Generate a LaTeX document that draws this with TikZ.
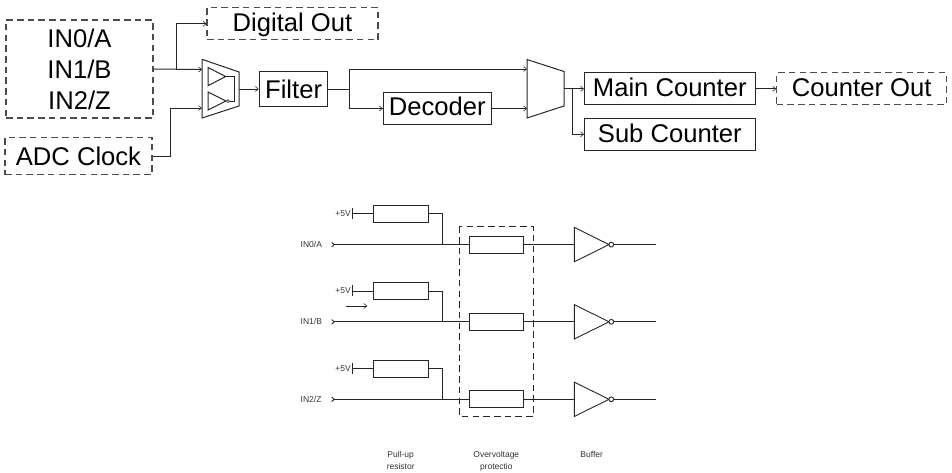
\documentclass[tikz,border=0pt]{standalone}
\usepackage{fontspec}
\setmainfont{Liberation Sans}
\usetikzlibrary{arrows.meta}
\tikzset{
  box/.style={draw=black!85,line width=1pt,inner sep=0pt,align=center,font=\fontsize{25.6}{31.3}\selectfont},
  dbox/.style={box,draw=black!70,line width=1.05pt,dash pattern=on 6.5pt off 4.2pt},
  wire/.style={draw=black!85,line width=1pt},
  arr/.style={wire,-{Straight Barb[length=3pt,width=5pt,line width=0.6pt]}},
  mux/.style={draw=black!85,line width=1pt},
  thin wire/.style={draw=black!85,line width=0.9pt},
  res/.style={draw=black!85,line width=0.9pt,minimum width=54.5pt,minimum height=17pt,inner sep=0pt},
  small/.style={inner sep=0pt,align=center,text=black!80,font=\fontsize{8.5}{12}\selectfont},
  ovp/.style={draw=black!85,line width=1pt,dash pattern=on 6.5pt off 4.2pt},
}
\newcommand{\inrow}[4]{%
  % #1 tag, #2 label, #3 resistor mid y, #4 line y
  \node[small,anchor=west] (lab#1) at (300.5,#4) {#2};
  \coordinate (port#1) at (334.3,#4);
  \draw[thin wire] (331.7,#4-2.2) -- (port#1) -- (331.7,#4+2.2);
  \node[small,anchor=east] (v#1) at (351,#3) {+5V};
  \coordinate (bar#1) at (352.7,#3);
  \draw[thin wire] (352.7,#3-6) -- (352.7,#3+5);
  \node[res] (pu#1) at (400.7,#3) {};
  \node[res] (ov#1) at (496.3,#4) {};
  \coordinate (j#1) at (442.7,#4);
  \draw[thin wire] (bar#1) -- (pu#1.west);
  \draw[thin wire] (pu#1.east) -| (j#1);
  \draw[thin wire] (port#1) -- (ov#1.west);
  \coordinate (ia#1) at (574.3,#4);
  \coordinate (ib#1) at (609,#4);
  \draw[thin wire] (ov#1.east) -- (ia#1);
  \draw[thin wire] (574.3,#4-17.2) -- (ib#1) -- (574.3,#4+17.2) -- cycle;
  \node[circle,draw=black!85,line width=0.9pt,fill=white,minimum size=4.8pt,inner sep=0pt] (bub#1) at (611.3,#4) {};
  \coordinate (end#1) at (655.7,#4);
  \draw[thin wire] (bub#1.east) -- (end#1);
}
\begin{document}
\begin{tikzpicture}[x=1pt,y=-1pt]
\useasboundingbox (0,0) rectangle (952,472);
% top boxes
\node[dbox,minimum width=147pt,minimum height=98pt] (inp) at (79.5,69) {\rule{0pt}{19.5pt}IN0/A\\IN1/B\\IN2/Z};
\node[dbox,minimum width=147pt,minimum height=37pt,text height=18pt,text depth=0pt] (adc) at (78.5,156) {ADC Clock};
\node[dbox,minimum width=171pt,minimum height=32pt,text height=18pt,text depth=3.5pt] (dout) at (292.5,23.8) {Digital Out};
\node[box,minimum width=68.7pt,minimum height=35pt,text height=19pt,text depth=0pt] (filt) at (293.6,89) {Filter};
\node[box,minimum width=107.7pt,minimum height=32pt,text height=18pt,text depth=3.5pt] (dec) at (437.2,108.5) {Decoder};
\node[box,minimum width=170.5pt,minimum height=31.7pt,text height=18pt,text depth=3.5pt] (main) at (669.8,88.8) {Main Counter};
\node[box,minimum width=170.5pt,minimum height=31.7pt,text height=18pt,text depth=2.4pt] (sub) at (669.8,134.2) {Sub Counter};
\node[dbox,minimum width=170pt,minimum height=31.7pt,text height=18pt,text depth=3.5pt] (cout) at (861.7,88.8) {Counter Out};
% mux 1
\draw[mux] (202,59.3) -- (239,72) -- (239,106) -- (202,118) -- cycle;
\draw[mux] (208,67.5) -- (225.7,76.5) -- (208,85.7) -- cycle;
\draw[mux] (208,92) -- (226,101) -- (208,110) -- cycle;
\node[circle,draw=black!85,line width=0.7pt,minimum size=3pt,inner sep=0pt] (m1bub) at (228,101) {};
\draw[wire] (225.7,76.5) -| (234.3,101) -- (m1bub.east);
\coordinate (m1a) at (202,69.5);
\coordinate (m1b) at (202,108);
\coordinate (m1o) at (239,89);
% mux 2
\draw[mux] (527,59.5) -- (564,71.5) -- (564,106) -- (527,118) -- cycle;
\coordinate (m2a) at (527,69);
\coordinate (m2b) at (527,108.5);
\coordinate (m2o) at (564,88.8);
% junctions
\coordinate (b1) at (176,69.5);
\coordinate (c1) at (170,108);
\coordinate (b2) at (349,89);
\coordinate (b3) at (572,88.8);
% top connectors
\draw[arr] (inp.east) -- (m1a);
\draw[arr] (b1) |- (dout.west);
\draw[arr] (adc.east) -| (c1) -- (m1b);
\draw[arr] (m1o) -- (filt.west);
\draw[wire] (filt.east) -- (b2);
\draw[arr] (b2) |- (m2a);
\draw[arr] (b2) |- (dec.west);
\draw[arr] (dec.east) -- (m2b);
\draw[arr] (m2o) -- (main.west);
\draw[arr] (b3) |- (sub.west);
\draw[arr] (main.east) -- (cout.west);
% bottom rows
\inrow{a}{IN0/A}{213.8}{244.6}
\inrow{b}{IN1/B}{291}{321.8}
\inrow{c}{IN2/Z}{368.5}{399.3}
\draw[ovp] (459.3,226.3) rectangle (533,416.3);
% current arrow
\coordinate (ca) at (346,306);
\coordinate (cb) at (367.3,306);
\draw[thin wire,-{Straight Barb[length=3pt,width=5pt,line width=0.6pt]}] (ca) -- (cb);
% captions
\node[small] (cap1) at (400.7,461) {Pull-up\strut\\resistor\strut};
\node[small] (cap2) at (496.3,461) {Overvoltage\strut\\protectio\strut};
\node[small] (cap3) at (591.7,455) {Buffer\strut};
\end{tikzpicture}
\end{document}
